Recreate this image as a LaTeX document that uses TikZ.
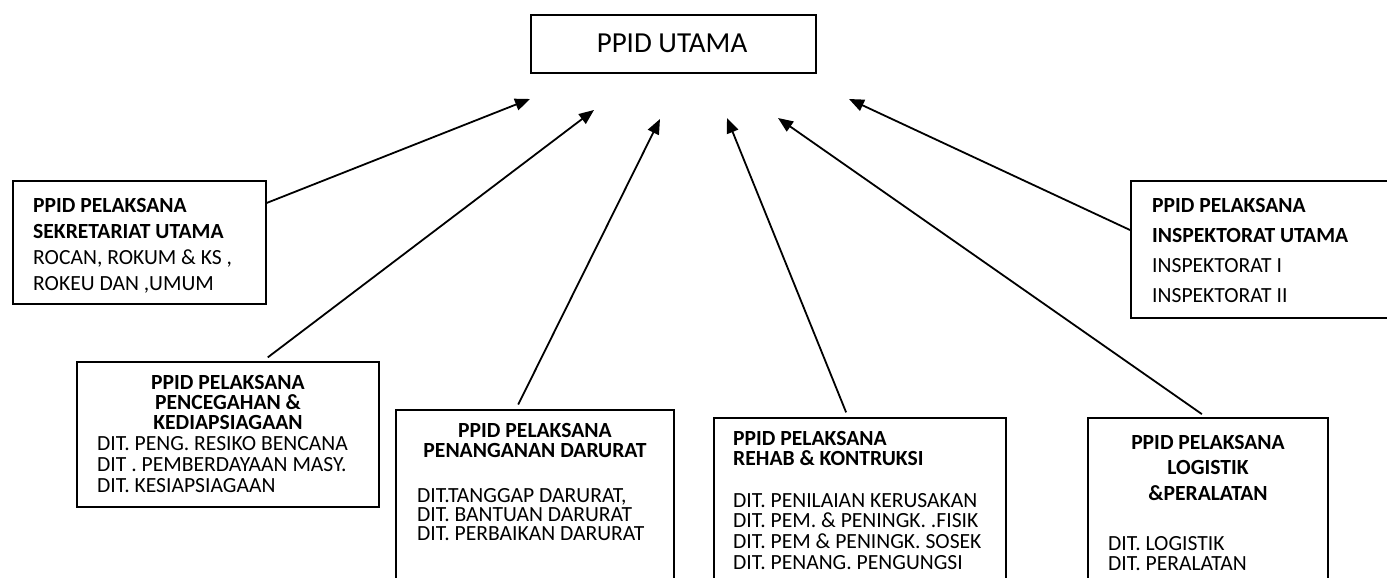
\documentclass[tikz,border=0pt]{standalone}
\usepackage{fontspec}
\setmainfont{Carlito}
\usetikzlibrary{arrows.meta}
\begin{document}
\begin{tikzpicture}[x=1pt,y=-1pt,
  box/.style={draw=black, line width=1.6pt, rectangle, inner sep=0pt, anchor=north west},
  txt/.style={inner sep=0pt, text=black},
  conn/.style={line width=1.8pt, draw=black, -{Triangle[length=15pt,width=12pt]}},
]
\clip (0,0) rectangle (1387,578);
\fill[white] (0,0) rectangle (1387,578);

% top box
\node[box, minimum width=285pt, minimum height=58pt] (top) at (530,14) {};
\node[txt, font=\fontsize{29}{30}\selectfont] (toptxt) at (672,43) {PPID UTAMA};

% box 1
\node[box, minimum width=253pt, minimum height=123pt] (b1) at (12,180) {};
\node[txt, anchor=north west, align=left, font=\fontsize{21.6}{26}\selectfont] (t1) at (33,198)
  {\textbf{PPID PELAKSANA}\\\textbf{SEKRETARIAT UTAMA}\\ROCAN, ROKUM \& KS ,\\ROKEU DAN ,UMUM};

% box 2
\node[box, minimum width=302pt, minimum height=145pt] (b2) at (76,361) {};
\node[txt, anchor=north, align=center, font=\fontsize{21.6}{20}\selectfont\bfseries] (t2a) at (228,375)
  {PPID PELAKSANA\\PENCEGAHAN \&\\KEDIAPSIAGAAN};
\node[txt, anchor=north west, align=left, font=\fontsize{21.6}{21}\selectfont] (t2b) at (97,436)
  {DIT. PENG. RESIKO BENCANA\\DIT . PEMBERDAYAAN MASY.\\DIT. KESIAPSIAGAAN};

% box 3
\node[box, minimum width=278pt, minimum height=200pt] (b3) at (395,409) {};
\node[txt, anchor=north, align=center, font=\fontsize{21.6}{20}\selectfont\bfseries] (t3a) at (535,423)
  {PPID PELAKSANA\\PENANGANAN DARURAT};
\node[txt, anchor=north west, align=left, font=\fontsize{21.6}{19}\selectfont] (t3b) at (417,488)
  {DIT.TANGGAP DARURAT,\\DIT. BANTUAN DARURAT\\DIT. PERBAIKAN DARURAT};

% box 4
\node[box, minimum width=292pt, minimum height=200pt] (b4) at (713,417) {};
\node[txt, anchor=north west, align=left, font=\fontsize{21.6}{20}\selectfont\bfseries] (t4a) at (733,431)
  {PPID PELAKSANA\\REHAB \& KONTRUKSI};
\node[txt, anchor=north west, align=left, font=\fontsize{21.6}{20.7}\selectfont] (t4b) at (733,493)
  {DIT. PENILAIAN KERUSAKAN\\DIT. PEM. \& PENINGK. .FISIK\\DIT. PEM \& PENINGK. SOSEK\\DIT. PENANG. PENGUNGSI};

% box 5
\node[box, minimum width=240pt, minimum height=200pt] (b5) at (1087,417) {};
\node[txt, anchor=north, align=center, font=\fontsize{21.6}{25.5}\selectfont\bfseries] (t5a) at (1208,435)
  {PPID PELAKSANA\\LOGISTIK\\\&PERALATAN};
\node[txt, anchor=north west, align=left, font=\fontsize{21.6}{20}\selectfont] (t5b) at (1108,536)
  {DIT. LOGISTIK\\DIT. PERALATAN};

% box 6
\node[box, minimum width=280pt, minimum height=137pt] (b6) at (1130,180) {};
\node[txt, anchor=north west, align=left, font=\fontsize{21.6}{30}\selectfont] (t6) at (1152,198)
  {\textbf{PPID PELAKSANA}\\\textbf{INSPEKTORAT UTAMA}\\INSPEKTORAT I\\INSPEKTORAT II};

% arrow heads
\coordinate (h1) at (530,99);
\coordinate (h2) at (594,110);
\coordinate (h3) at (660,119);
\coordinate (h4) at (727,118);
\coordinate (h5) at (778,118);
\coordinate (h6) at (849,99);

\draw[conn] (b1.east |- 0,203) -- (h1);
\draw[conn, shorten <=6pt] (263,0 |- b2.north) -- (h2);
\draw[conn, shorten <=5pt] (516,0 |- b3.north) -- (h3);
\draw[conn, shorten <=5pt] (848,0 |- b4.north) -- (h4);
\draw[conn, shorten <=5pt] (1206,0 |- b5.north) -- (h5);
\draw[conn] (b6.west |- 0,230) -- (h6);
\end{tikzpicture}
\end{document}
